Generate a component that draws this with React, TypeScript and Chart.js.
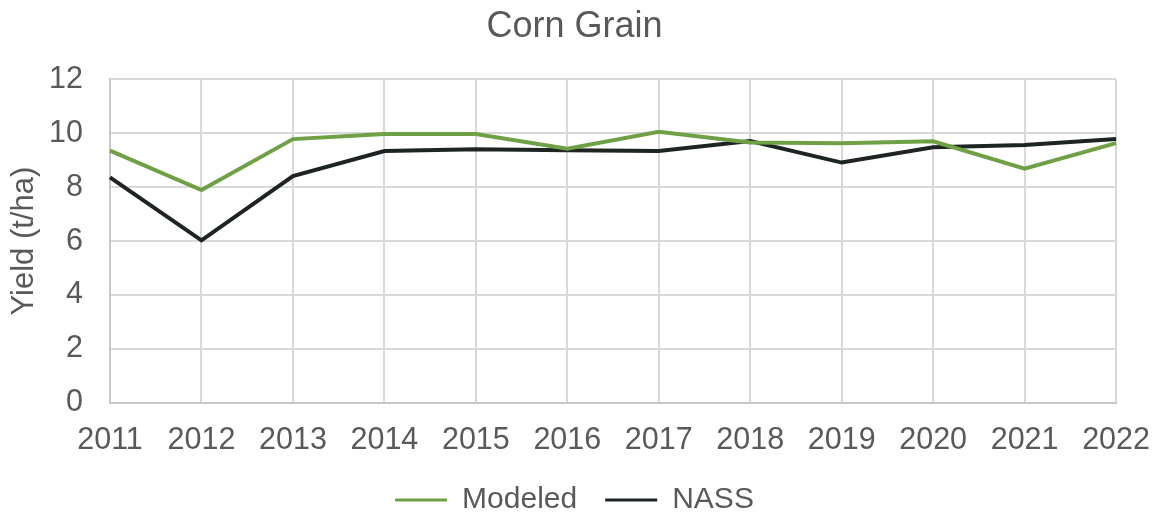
import React, { useEffect, useRef } from "react";
import { Chart, registerables } from "chart.js";

Chart.register(...registerables);

const years = ["2011", "2012", "2013", "2014", "2015", "2016", "2017", "2018", "2019", "2020", "2021", "2022"];
const modeled = [9.35, 7.89, 9.78, 9.97, 9.97, 9.42, 10.05, 9.65, 9.63, 9.7, 8.68, 9.63];
const nass = [8.36, 6.03, 8.41, 9.34, 9.4, 9.37, 9.34, 9.71, 8.91, 9.48, 9.56, 9.78];
const yMin = 0;
const yMax = 12;
const yStep = 2;

const FONT = "'Liberation Sans', Arial, sans-serif";
const TEXT = "#595959";
const GREEN = "#70a045";
const DARK = "#1e2420";

export default function App() {
  const ref = useRef<HTMLCanvasElement | null>(null);

  useEffect(() => {
    document.body.style.margin = "0";
    const canvas = ref.current;
    if (!canvas) return;
    const chart = new Chart(canvas, {
      type: "line",
      data: {
        labels: years,
        datasets: [
          {
            label: "Modeled",
            data: modeled,
            borderColor: GREEN,
            backgroundColor: GREEN,
            borderWidth: 4,
            pointRadius: 0,
            tension: 0,
          },
          {
            label: "NASS",
            data: nass,
            borderColor: DARK,
            backgroundColor: DARK,
            borderWidth: 4,
            pointRadius: 0,
            tension: 0,
          },
        ],
      },
      options: {
        responsive: false,
        animation: false,
        layout: { padding: { left: 0, right: 10, top: 0, bottom: -8 } },
        plugins: {
          title: {
            display: true,
            text: "Corn Grain",
            color: TEXT,
            font: { family: FONT, size: 36, weight: "normal" },
            padding: { top: 5, bottom: 31 },
          },
          legend: {
            position: "bottom",
            labels: {
              color: TEXT,
              font: { family: FONT, size: 30 },
              boxWidth: 52,
              boxHeight: 3,
              padding: 28,
              generateLabels: (c: any) => {
                const items = Chart.defaults.plugins.legend.labels.generateLabels(c);
                return items.map((it: any) => ({ ...it, lineWidth: 0 }));
              },
            },
          },
          tooltip: { enabled: false },
        },
        scales: {
          x: {
            type: "category",
            offset: false,
            grid: {
              color: "#d9d9d9",
              lineWidth: 2,
              drawTicks: true,
              tickLength: 10,
              tickColor: "rgba(0,0,0,0)",
              offset: false,
            },
            border: { color: "#c8c8c8", width: 2 },
            ticks: {
              color: TEXT,
              font: { family: FONT, size: 30.5 },
              padding: 9,
              maxRotation: 0,
              autoSkip: false,
            },
            afterFit: (s: any) => {
              s.height = 54;
            },
          },
          y: {
            min: yMin,
            max: yMax,
            grid: { color: "#d9d9d9", lineWidth: 2, drawTicks: false },
            border: { color: "#c8c8c8", width: 2 },
            ticks: {
              stepSize: yStep,
              color: TEXT,
              font: { family: FONT, size: 30.5 },
              padding: 27,
            },
            title: {
              display: true,
              text: "Yield (t/ha)",
              color: TEXT,
              font: { family: FONT, size: 31 },
              padding: { top: 6, bottom: 0 },
            },
            afterFit: (s: any) => {
              s.width = 110;
            },
          },
        },
      },
    });
    return () => chart.destroy();
  }, []);

  return (
    <div style={{ width: 1159, height: 517 }}>
      <canvas ref={ref} width={1159} height={517} />
    </div>
  );
}
